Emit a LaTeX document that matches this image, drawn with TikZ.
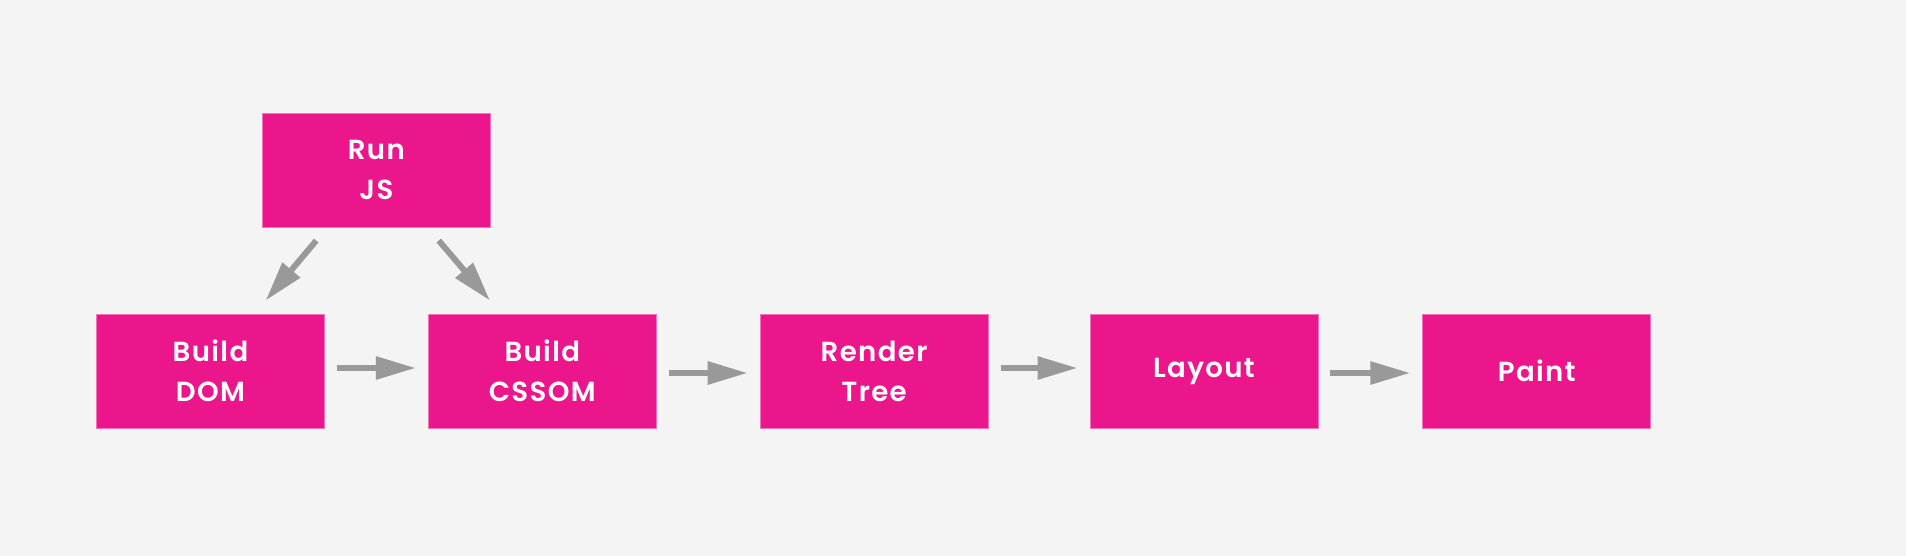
\documentclass[tikz,border=0pt]{standalone}
\usepackage{fontspec}
\setmainfont{Poppins}[BoldFont={Poppins SemiBold}, BoldFeatures={LetterSpace=5}]
\usepackage{tikz}
\usetikzlibrary{arrows.meta, positioning, calc}
\definecolor{caja}{RGB}{236,22,140}
\definecolor{fondo}{RGB}{244,244,244}
\definecolor{flechagris}{RGB}{153,153,153}
\tikzset{
  paso/.style={rectangle, fill=caja, draw=caja!60!white, line width=0.4pt,
    minimum width=114pt, minimum height=57pt, align=center, inner sep=0pt,
    text=white, font=\fontsize{13.8}{20}\selectfont\bfseries},
  flecha/.style={-{Triangle[length=20pt, width=11pt]}, line width=3pt,
    color=flechagris, shorten >=6pt, shorten <=6pt},
  diag/.style={flecha, shorten >=8.5pt, shorten <=8.5pt}
}

\begin{document}
\begin{tikzpicture}[node distance=43pt and 51.5pt]
  \fill[fondo] (0,0) rectangle (953pt,-278pt);
  \useasboundingbox (0,0) rectangle (953pt,-278pt);
  \node[paso] (dom) at (105.25pt,-185.5pt) {Build\\DOM};
  \node[paso, right=of dom] (cssom) {Build\\CSSOM};
  \node[paso, right=of cssom] (render) {Render\\Tree};
  \node[paso, right=50.5pt of render] (layout) {Layout};
  \node[paso, right=52pt of layout] (paint) {Paint};
  \node[paso, above=43pt of $(dom.north)!.5!(cssom.north)$, anchor=south] (run) {Run\\JS};
  \draw[diag] ($(run.south west)!0.285!(run.south east)$) -- ($(dom.north east)!0.307!(dom.north west)$);
  \draw[diag] ($(run.south west)!0.724!(run.south east)$) -- ($(cssom.north west)!0.32!(cssom.north east)$);
  \draw[flecha] ([yshift=1.5pt]dom.east) -- ([yshift=1.5pt]cssom.west);
  \draw[flecha] ([yshift=-1pt]cssom.east) -- ([yshift=-1pt]render.west);
  \draw[flecha] ([yshift=1.5pt]render.east) -- ([yshift=1.5pt]layout.west);
  \draw[flecha] ([yshift=-1pt]layout.east) -- ([yshift=-1pt]paint.west);
\end{tikzpicture}
\end{document}
